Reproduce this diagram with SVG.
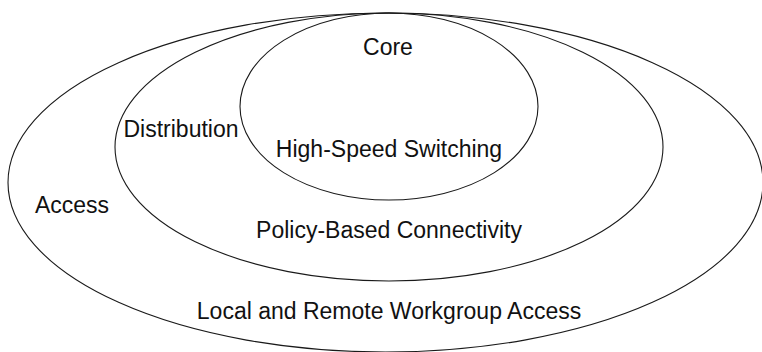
<svg xmlns="http://www.w3.org/2000/svg" width="762" height="352" viewBox="0 0 762 352">
<style>
.ring{fill:none;stroke:#1a1a1a;stroke-width:1.1}
.lbl{font-family:"Liberation Sans",Arial,sans-serif;font-size:23px;fill:#111}
.c{text-anchor:middle}
</style>
<rect width="762" height="352" fill="#fff"/>
<g id="access">
<ellipse class="ring" cx="385.5" cy="182.5" rx="377.5" ry="169.5"/>
<text class="lbl c" x="72" y="213">Access</text>
<text class="lbl c" x="389" y="319">Local and Remote Workgroup Access</text>
</g>
<g id="distribution">
<ellipse class="ring" cx="389" cy="147" rx="274" ry="134"/>
<text class="lbl c" x="181" y="137">Distribution</text>
<text class="lbl c" x="389" y="238">Policy-Based Connectivity</text>
</g>
<g id="core">
<ellipse class="ring" cx="389" cy="106.5" rx="149" ry="93.5"/>
<text class="lbl c" x="388" y="55">Core</text>
<text class="lbl c" x="389" y="157">High-Speed Switching</text>
</g>
<g id="connectors"/>
</svg>
